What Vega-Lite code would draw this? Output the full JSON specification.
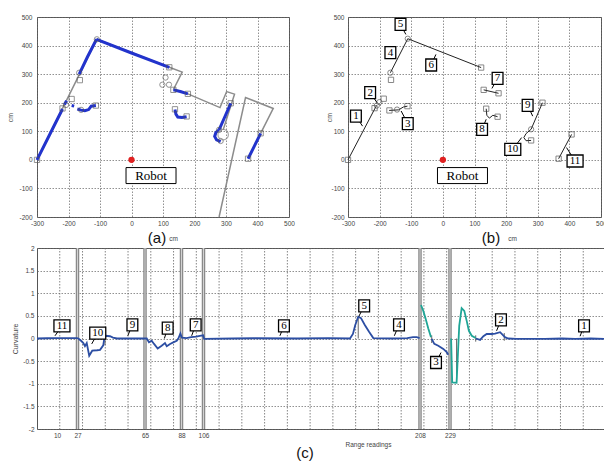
{
  "$schema": "https://vega.github.io/schema/vega-lite/v6.json",
  "padding": {"left": 6, "top": 13, "right": 0, "bottom": 0},
  "background": "white",
  "spacing": -2,
  "datasets": {
    "wallsA": [
      {"s": "w1", "k": 0, "x": -300, "y": 0}, {"s": "w1", "k": 1, "x": -165, "y": 300}, {"s": "w1", "k": 2, "x": -110, "y": 422},
      {"s": "w1", "k": 3, "x": 120, "y": 324}, {"s": "w1", "k": 4, "x": 161, "y": 307}, {"s": "w1", "k": 5, "x": 134, "y": 248},
      {"s": "w1", "k": 6, "x": 179, "y": 231}, {"s": "w1", "k": 7, "x": 281, "y": 183}, {"s": "w1", "k": 8, "x": 302, "y": 239},
      {"s": "w1", "k": 9, "x": 327, "y": 230}, {"s": "w1", "k": 10, "x": 291, "y": 105},
      {"s": "w2", "k": 0, "x": 278, "y": -200}, {"s": "w2", "k": 1, "x": 362, "y": 218}, {"s": "w2", "k": 2, "x": 450, "y": 180}, {"s": "w2", "k": 3, "x": 410, "y": 93}
    ],
    "blueA": [
      {"s": "b1", "k": 0, "x": -300, "y": 0}, {"s": "b1", "k": 1, "x": -260, "y": 88}, {"s": "b1", "k": 2, "x": -219, "y": 178},
      {"s": "b1b", "k": 0, "x": -213, "y": 194}, {"s": "b1b", "k": 1, "x": -206, "y": 207},
      {"s": "b4", "k": 0, "x": -166, "y": 300}, {"s": "b4", "k": 1, "x": -140, "y": 360}, {"s": "b4", "k": 2, "x": -111, "y": 422},
      {"s": "b6", "k": 0, "x": -111, "y": 422}, {"s": "b6", "k": 1, "x": 0, "y": 374}, {"s": "b6", "k": 2, "x": 120, "y": 324},
      {"s": "b3", "k": 0, "x": -172, "y": 178}, {"s": "b3", "k": 1, "x": -160, "y": 174}, {"s": "b3", "k": 2, "x": -148, "y": 172},
      {"s": "b3", "k": 3, "x": -136, "y": 176}, {"s": "b3", "k": 4, "x": -128, "y": 188}, {"s": "b3", "k": 5, "x": -113, "y": 190},
      {"s": "b3a", "k": 0, "x": -190, "y": 190}, {"s": "b3a", "k": 1, "x": -182, "y": 188},
      {"s": "b7", "k": 0, "x": 133, "y": 245}, {"s": "b7", "k": 1, "x": 155, "y": 239}, {"s": "b7", "k": 2, "x": 179, "y": 231},
      {"s": "b8", "k": 0, "x": 138, "y": 176}, {"s": "b8", "k": 1, "x": 141, "y": 160}, {"s": "b8", "k": 2, "x": 147, "y": 150},
      {"s": "b8", "k": 3, "x": 160, "y": 148}, {"s": "b8", "k": 4, "x": 175, "y": 151},
      {"s": "b9", "k": 0, "x": 315, "y": 198}, {"s": "b9", "k": 1, "x": 296, "y": 150}, {"s": "b9", "k": 2, "x": 278, "y": 105},
      {"s": "b10", "k": 0, "x": 278, "y": 105}, {"s": "b10", "k": 1, "x": 268, "y": 96}, {"s": "b10", "k": 2, "x": 264, "y": 82},
      {"s": "b10", "k": 3, "x": 270, "y": 70}, {"s": "b10", "k": 4, "x": 283, "y": 64},
      {"s": "b11", "k": 0, "x": 410, "y": 93}, {"s": "b11", "k": 1, "x": 390, "y": 48}, {"s": "b11", "k": 2, "x": 370, "y": 4}
    ],
    "markA": [
      {"m": "sq", "x": -300, "y": 0}, {"m": "sq", "x": -219, "y": 180}, {"m": "sq", "x": -190, "y": 213}, {"m": "sq", "x": -164, "y": 279},
      {"m": "sq", "x": -113, "y": 190}, {"m": "sq", "x": 120, "y": 324}, {"m": "sq", "x": 179, "y": 231}, {"m": "sq", "x": 138, "y": 177},
      {"m": "sq", "x": 175, "y": 152}, {"m": "sq", "x": 315, "y": 198}, {"m": "sq", "x": 410, "y": 93}, {"m": "sq", "x": 370, "y": 4},
      {"m": "sq", "x": 133, "y": 245},
      {"m": "ci", "x": -208, "y": 192}, {"m": "ci", "x": -166, "y": 305}, {"m": "ci", "x": -110, "y": 422}, {"m": "ci", "x": 278, "y": 105},
      {"m": "ci", "x": 283, "y": 66}, {"m": "ci", "x": 98, "y": 263}, {"m": "ci", "x": 119, "y": 263}, {"m": "ci", "x": 108, "y": 288},
      {"m": "ci", "x": -160, "y": 175}
    ],
    "blackB": [
      {"s": "L1", "k": 0, "x": -300, "y": 0}, {"s": "L1", "k": 1, "x": -210, "y": 190},
      {"s": "L3", "k": 0, "x": -170, "y": 173}, {"s": "L3", "k": 1, "x": -140, "y": 175}, {"s": "L3", "k": 2, "x": -125, "y": 185}, {"s": "L3", "k": 3, "x": -112, "y": 188},
      {"s": "L4", "k": 0, "x": -166, "y": 305}, {"s": "L4", "k": 1, "x": -111, "y": 424},
      {"s": "L6", "k": 0, "x": -111, "y": 424}, {"s": "L6", "k": 1, "x": 121, "y": 323},
      {"s": "L7", "k": 0, "x": 129, "y": 245}, {"s": "L7", "k": 1, "x": 176, "y": 233},
      {"s": "L8", "k": 0, "x": 137, "y": 179}, {"s": "L8", "k": 1, "x": 139, "y": 156}, {"s": "L8", "k": 2, "x": 147, "y": 146}, {"s": "L8", "k": 3, "x": 158, "y": 156}, {"s": "L8", "k": 4, "x": 173, "y": 151},
      {"s": "L9", "k": 0, "x": 315, "y": 200}, {"s": "L9", "k": 1, "x": 279, "y": 107},
      {"s": "L10", "k": 0, "x": 279, "y": 107}, {"s": "L10", "k": 1, "x": 263, "y": 92}, {"s": "L10", "k": 2, "x": 256, "y": 78}, {"s": "L10", "k": 3, "x": 263, "y": 67}, {"s": "L10", "k": 4, "x": 279, "y": 68},
      {"s": "L11", "k": 0, "x": 366, "y": 4}, {"s": "L11", "k": 1, "x": 407, "y": 89}
    ],
    "markB": [
      {"m": "sq", "x": -300, "y": 0}, {"m": "sq", "x": -216, "y": 181}, {"m": "sq", "x": -187, "y": 214}, {"m": "sq", "x": -164, "y": 280},
      {"m": "sq", "x": -169, "y": 173}, {"m": "sq", "x": -112, "y": 188}, {"m": "sq", "x": 121, "y": 323}, {"m": "sq", "x": 129, "y": 245},
      {"m": "sq", "x": 176, "y": 233}, {"m": "sq", "x": 137, "y": 179}, {"m": "sq", "x": 173, "y": 151}, {"m": "sq", "x": 315, "y": 200},
      {"m": "sq", "x": 279, "y": 68}, {"m": "sq", "x": 366, "y": 4}, {"m": "sq", "x": 407, "y": 89},
      {"m": "ci", "x": -209, "y": 190}, {"m": "ci", "x": -201, "y": 202}, {"m": "ci", "x": -166, "y": 305}, {"m": "ci", "x": -111, "y": 424},
      {"m": "ci", "x": -145, "y": 176}, {"m": "ci", "x": 279, "y": 107}
    ],
    "labelsB": [
      {"n": "1", "x": -275, "y": 153, "tx": -254, "ty": 118},
      {"n": "2", "x": -230, "y": 235, "tx": -208, "ty": 200},
      {"n": "3", "x": -111, "y": 127, "tx": -132, "ty": 171},
      {"n": "4", "x": -166, "y": 375, "tx": -148, "ty": 358},
      {"n": "5", "x": -134, "y": 474, "tx": -117, "ty": 439},
      {"n": "6", "x": -37, "y": 332, "tx": -22, "ty": 369},
      {"n": "7", "x": 173, "y": 285, "tx": 155, "ty": 250},
      {"n": "8", "x": 124, "y": 107, "tx": 137, "ty": 142},
      {"n": "9", "x": 268, "y": 191, "tx": 284, "ty": 153},
      {"n": "10", "x": 221, "y": 37, "tx": 249, "ty": 78},
      {"n": "11", "x": 418, "y": -4, "tx": 391, "ty": 43}
    ],
    "robot": [{"x": 0, "y": 0}],
    "robotLabel": [{"x": 62, "y": -55, "t": "Robot"}],
    "gridC": [
      {"g": 1}, {"g": 2}, {"g": 3}, {"g": 4}, {"g": 5}, {"g": 6}, {"g": 7}, {"g": 8}, {"g": 9}, {"g": 10}, {"g": 11}, {"g": 12},
      {"g": 13}, {"g": 14}, {"g": 15}, {"g": 16}, {"g": 17}, {"g": 18}, {"g": 19}, {"g": 20}, {"g": 21}, {"g": 22}, {"g": 23}, {"g": 24}
    ],
    "boundsC": [{"r": 27}, {"r": 65}, {"r": 88}, {"r": 106}, {"r": 208}, {"r": 229}],
    "ticksC": [
      {"r": 42.5, "c": 0.05, "c2": -0.15}, {"r": 178.9, "c": 0, "c2": 0.48}, {"r": 216.2, "c": 0.07, "c2": -0.1},
      {"r": 232, "c": 0, "c2": -0.9}, {"r": 240.7, "c": -0.07, "c2": 0.07}, {"r": 253.7, "c": -0.05, "c2": 0.12}
    ],
    "curvesC": [
      {"s": "m", "kind": "blue", "r": 0, "c": 0.0}, {"s": "m", "kind": "blue", "r": 5, "c": 0.005}, {"s": "m", "kind": "blue", "r": 10, "c": 0.01},
      {"s": "m", "kind": "blue", "r": 18, "c": 0.01}, {"s": "m", "kind": "blue", "r": 26.5, "c": 0.01}, {"s": "m", "kind": "blue", "r": 27.5, "c": 0.0},
      {"s": "m", "kind": "blue", "r": 29, "c": -0.05}, {"s": "m", "kind": "blue", "r": 30.3, "c": -0.1}, {"s": "m", "kind": "blue", "r": 31.2, "c": -0.17},
      {"s": "m", "kind": "blue", "r": 32.2, "c": -0.1}, {"s": "m", "kind": "blue", "r": 33.6, "c": -0.38}, {"s": "m", "kind": "blue", "r": 35.3, "c": -0.27},
      {"s": "m", "kind": "blue", "r": 38, "c": -0.26}, {"s": "m", "kind": "blue", "r": 39.7, "c": -0.25}, {"s": "m", "kind": "blue", "r": 41.5, "c": -0.15},
      {"s": "m", "kind": "blue", "r": 42.2, "c": 0.03}, {"s": "m", "kind": "blue", "r": 43, "c": 0.06}, {"s": "m", "kind": "blue", "r": 45.3, "c": 0.05},
      {"s": "m", "kind": "blue", "r": 47, "c": 0.02}, {"s": "m", "kind": "blue", "r": 49.2, "c": 0.0}, {"s": "m", "kind": "blue", "r": 55, "c": 0.0},
      {"s": "m", "kind": "blue", "r": 64.5, "c": 0.0}, {"s": "m", "kind": "blue", "r": 66.1, "c": 0.0}, {"s": "m", "kind": "blue", "r": 67.5, "c": -0.085},
      {"s": "m", "kind": "blue", "r": 69.2, "c": -0.05}, {"s": "m", "kind": "blue", "r": 70.7, "c": -0.12}, {"s": "m", "kind": "blue", "r": 73, "c": -0.22},
      {"s": "m", "kind": "blue", "r": 75.5, "c": -0.16}, {"s": "m", "kind": "blue", "r": 77.6, "c": -0.1}, {"s": "m", "kind": "blue", "r": 78.7, "c": -0.17},
      {"s": "m", "kind": "blue", "r": 80.8, "c": -0.12}, {"s": "m", "kind": "blue", "r": 82.8, "c": -0.085}, {"s": "m", "kind": "blue", "r": 85, "c": -0.05},
      {"s": "m", "kind": "blue", "r": 86, "c": 0.0}, {"s": "m", "kind": "blue", "r": 87.3, "c": 0.11}, {"s": "m", "kind": "blue", "r": 88.3, "c": 0.02},
      {"s": "m", "kind": "blue", "r": 92, "c": 0.01}, {"s": "m", "kind": "blue", "r": 96, "c": 0.03}, {"s": "m", "kind": "blue", "r": 100, "c": 0.04},
      {"s": "m", "kind": "blue", "r": 103, "c": 0.06}, {"s": "m", "kind": "blue", "r": 105.7, "c": 0.07}, {"s": "m", "kind": "blue", "r": 106.3, "c": -0.01},
      {"s": "m", "kind": "blue", "r": 120, "c": 0.0}, {"s": "m", "kind": "blue", "r": 130, "c": 0.005}, {"s": "m", "kind": "blue", "r": 150, "c": 0.0},
      {"s": "m", "kind": "blue", "r": 165, "c": 0.01}, {"s": "m", "kind": "blue", "r": 175, "c": 0.0}, {"s": "m", "kind": "blue", "r": 176.4, "c": 0.1},
      {"s": "m", "kind": "blue", "r": 177.5, "c": 0.3}, {"s": "m", "kind": "blue", "r": 178.9, "c": 0.48}, {"s": "m", "kind": "blue", "r": 180.2, "c": 0.45},
      {"s": "m", "kind": "blue", "r": 182, "c": 0.3}, {"s": "m", "kind": "blue", "r": 184, "c": 0.15}, {"s": "m", "kind": "blue", "r": 186, "c": 0.01},
      {"s": "m", "kind": "blue", "r": 195, "c": 0.0}, {"s": "m", "kind": "blue", "r": 202, "c": 0.01}, {"s": "m", "kind": "blue", "r": 204.7, "c": 0.03},
      {"s": "m", "kind": "blue", "r": 206.5, "c": 0.03}, {"s": "m", "kind": "blue", "r": 207.8, "c": 0.01},
      {"s": "tA", "kind": "teal", "r": 208.7, "c": 0.74}, {"s": "tA", "kind": "teal", "r": 210.3, "c": 0.61}, {"s": "tA", "kind": "teal", "r": 212, "c": 0.43},
      {"s": "tA", "kind": "teal", "r": 213.8, "c": 0.22}, {"s": "tA", "kind": "teal", "r": 215.7, "c": 0.03},
      {"s": "b3", "kind": "blue", "r": 216.2, "c": -0.01}, {"s": "b3", "kind": "blue", "r": 218, "c": -0.12}, {"s": "b3", "kind": "blue", "r": 220.8, "c": -0.16},
      {"s": "b3", "kind": "blue", "r": 224.3, "c": -0.23}, {"s": "b3", "kind": "blue", "r": 226.7, "c": -0.3}, {"s": "b3", "kind": "blue", "r": 227.8, "c": -0.36},
      {"s": "tB", "kind": "teal", "r": 229.5, "c": 0.0}, {"s": "tB", "kind": "teal", "r": 230, "c": -0.97}, {"s": "tB", "kind": "teal", "r": 232, "c": -0.98},
      {"s": "tB", "kind": "teal", "r": 233.2, "c": 0.28}, {"s": "tB", "kind": "teal", "r": 234.3, "c": 0.67}, {"s": "tB", "kind": "teal", "r": 235.5, "c": 0.61},
      {"s": "tB", "kind": "teal", "r": 236.6, "c": 0.39}, {"s": "tB", "kind": "teal", "r": 237.6, "c": 0.17}, {"s": "tB", "kind": "teal", "r": 238.9, "c": 0.06},
      {"s": "tB", "kind": "teal", "r": 240.7, "c": 0.01},
      {"s": "bC", "kind": "blue", "r": 240.8, "c": 0.0}, {"s": "bC", "kind": "blue", "r": 242.7, "c": -0.03}, {"s": "bC", "kind": "blue", "r": 244.2, "c": 0.05},
      {"s": "bC", "kind": "blue", "r": 245.7, "c": 0.1}, {"s": "bC", "kind": "blue", "r": 248, "c": 0.1}, {"s": "bC", "kind": "blue", "r": 249.5, "c": 0.11},
      {"s": "bC", "kind": "blue", "r": 251.8, "c": 0.14}, {"s": "bC", "kind": "blue", "r": 253, "c": 0.08}, {"s": "bC", "kind": "blue", "r": 254, "c": 0.03},
      {"s": "bC", "kind": "blue", "r": 255.5, "c": 0.0}, {"s": "bC", "kind": "blue", "r": 259.3, "c": -0.01}, {"s": "bC", "kind": "blue", "r": 272.2, "c": -0.01},
      {"s": "bC", "kind": "blue", "r": 280, "c": 0.0}, {"s": "bC", "kind": "blue", "r": 286, "c": -0.01}, {"s": "bC", "kind": "blue", "r": 293, "c": 0.0},
      {"s": "bC", "kind": "blue", "r": 300, "c": -0.01}
    ],
    "labelsC": [
      {"n": "11", "r": 14.1, "c": 0.28, "r2": 9, "c2": 0.06},
      {"n": "10", "r": 38.4, "c": 0.12, "r2": 35, "c2": -0.12},
      {"n": "9", "r": 57.9, "c": 0.3, "r2": 55.3, "c2": 0.06},
      {"n": "8", "r": 79.3, "c": 0.23, "r2": 77.2, "c2": 0.0},
      {"n": "7", "r": 99.6, "c": 0.3, "r2": 96.3, "c2": 0.06},
      {"n": "6", "r": 143.9, "c": 0.28, "r2": 142, "c2": 0.06},
      {"n": "5", "r": 181.7, "c": 0.72, "r2": 179.2, "c2": 0.49},
      {"n": "4", "r": 198.1, "c": 0.3, "r2": 195.9, "c2": 0.06},
      {"n": "3", "r": 219.2, "c": -0.53, "r2": 222.7, "c2": -0.31},
      {"n": "2", "r": 252.2, "c": 0.41, "r2": 250.2, "c2": 0.17},
      {"n": "1", "r": 290, "c": 0.28, "r2": 288.2, "c2": 0.05}
    ]
  },
  "vconcat": [
    {
      "spacing": 30,
      "hconcat": [
        {
          "width": 252, "height": 200,
          "title": {"text": "(a)", "orient": "bottom", "baseline": "middle", "offset": -4, "dx": -6},
          "encoding": {
            "x": {"field": "x", "type": "quantitative", "scale": {"domain": [-300, 500], "nice": false, "zero": false},
              "axis": {"values": [-300, -200, -100, 0, 100, 200, 300, 400, 500], "labelExpr": "toString(datum.value)", "labelFlush": false, "labelPadding": 3,
                "title": "cm", "titleX": 136, "titleY": 21, "titleBaseline": "middle", "titleFontSize": 6.5}},
            "y": {"field": "y", "type": "quantitative", "scale": {"domain": [-200, 500], "nice": false, "zero": false},
              "axis": {"values": [-200, -100, 0, 100, 200, 300, 400, 500], "labelExpr": "toString(datum.value)", "labelPadding": 5,
                "minExtent": 20, "maxExtent": 20, "title": "cm", "titlePadding": 3.5}}
          },
          "layer": [
            {"data": {"name": "wallsA"}, "mark": {"type": "line", "color": "#8c8c8c", "strokeWidth": 1.5},
              "encoding": {"detail": {"field": "s"}, "order": {"field": "k"}}},
            {"data": {"name": "blueA"}, "mark": {"type": "line", "color": "#2233cc", "strokeWidth": 3},
              "encoding": {"detail": {"field": "s"}, "order": {"field": "k"}}},
            {"data": {"name": "markA"}, "mark": {"type": "point", "filled": false, "color": "#555555", "strokeWidth": 0.9, "size": 28},
              "encoding": {"shape": {"field": "m", "type": "nominal", "scale": {"domain": ["sq", "ci"], "range": ["square", "circle"]}, "legend": null}}},
            {"data": {"values": [{"x": 291, "y": 88}]}, "mark": {"type": "point", "shape": "circle", "filled": false, "color": "#888888", "strokeWidth": 1.2, "size": 110}},
            {"data": {"name": "robot"}, "mark": {"type": "point", "shape": "circle", "filled": true, "color": "#e02020", "opacity": 1, "size": 40}},
            {"data": {"name": "robotLabel"}, "mark": {"type": "point", "shape": "M-1,-0.32H1V0.32H-1Z", "size": 2500, "fill": "white", "fillOpacity": 1, "stroke": "black", "strokeWidth": 1, "opacity": 1}},
            {"data": {"name": "robotLabel"}, "mark": {"type": "text", "font": "Liberation Serif", "fontSize": 13, "color": "black", "align": "center", "baseline": "middle"},
              "encoding": {"text": {"field": "t"}}}
          ]
        },
        {
          "width": 253, "height": 200,
          "title": {"text": "(b)", "orient": "bottom", "baseline": "middle", "offset": -4, "dx": 16.5},
          "encoding": {
            "x": {"field": "x", "type": "quantitative", "scale": {"domain": [-300, 500], "nice": false, "zero": false},
              "axis": {"values": [-300, -200, -100, 0, 100, 200, 300, 400, 500], "labelExpr": "toString(datum.value)", "labelFlush": false, "labelPadding": 3,
                "title": "cm", "titleX": 164, "titleY": 21, "titleBaseline": "middle", "titleFontSize": 6.5}},
            "y": {"field": "y", "type": "quantitative", "scale": {"domain": [-200, 500], "nice": false, "zero": false},
              "axis": {"values": [-200, -100, 0, 100, 200, 300, 400, 500], "labelExpr": "toString(datum.value)", "labelPadding": 4,
                "minExtent": 14, "maxExtent": 14, "title": "cm", "titlePadding": 1.5}}
          },
          "layer": [
            {"data": {"name": "blackB"}, "mark": {"type": "line", "color": "#222222", "strokeWidth": 1},
              "encoding": {"detail": {"field": "s"}, "order": {"field": "k"}}},
            {"data": {"name": "markB"}, "mark": {"type": "point", "filled": false, "color": "#444444", "strokeWidth": 0.9, "size": 28},
              "encoding": {"shape": {"field": "m", "type": "nominal", "scale": {"domain": ["sq", "ci"], "range": ["square", "circle"]}, "legend": null}}},
            {"data": {"name": "labelsB"}, "mark": {"type": "rule", "color": "black", "strokeWidth": 1},
              "encoding": {"x2": {"field": "tx"}, "y2": {"field": "ty"}}},
            {"data": {"name": "labelsB"}, "transform": [{"filter": "length(datum.n) == 1"}],
              "mark": {"type": "point", "shape": "M-0.9,-1H0.9V1H-0.9Z", "size": 144, "fill": "white", "fillOpacity": 1, "stroke": "black", "strokeWidth": 1.3, "opacity": 1}},
            {"data": {"name": "labelsB"}, "transform": [{"filter": "length(datum.n) == 2"}],
              "mark": {"type": "point", "shape": "M-1,-0.75H1V0.75H-1Z", "size": 256, "fill": "white", "fillOpacity": 1, "stroke": "black", "strokeWidth": 1.3, "opacity": 1}},
            {"data": {"name": "labelsB"}, "mark": {"type": "text", "font": "Liberation Serif", "fontSize": 11, "color": "black", "align": "center", "baseline": "middle"},
              "encoding": {"text": {"field": "n"}}},
            {"data": {"name": "robot"}, "mark": {"type": "point", "shape": "circle", "filled": true, "color": "#e02020", "opacity": 1, "size": 40}},
            {"data": {"name": "robotLabel"}, "mark": {"type": "point", "shape": "M-1,-0.32H1V0.32H-1Z", "size": 2500, "fill": "white", "fillOpacity": 1, "stroke": "black", "strokeWidth": 1, "opacity": 1}},
            {"data": {"name": "robotLabel"}, "mark": {"type": "text", "font": "Liberation Serif", "fontSize": 13, "color": "black", "align": "center", "baseline": "middle"},
              "encoding": {"text": {"field": "t"}}}
          ]
        }
      ]
    },
    {
      "width": 569, "height": 181,
      "title": {"text": "(c)", "orient": "bottom", "baseline": "middle", "offset": 5, "dx": -16.5},
      "resolve": {"scale": {"x": "independent"}},
      "layer": [
        {"data": {"name": "gridC"}, "mark": {"type": "rule", "strokeDash": [1.5, 1.5], "color": "#666666", "strokeWidth": 0.8},
          "encoding": {"x": {"field": "g", "type": "quantitative", "scale": {"domain": [0, 25], "nice": false, "zero": false}, "axis": null}}},
        {"data": {"name": "boundsC"}, "layer": [
          {"mark": {"type": "rule", "color": "#8a8a8a", "strokeWidth": 3.5}, "encoding": {}},
          {"mark": {"type": "rule", "color": "#e4e4e4", "strokeWidth": 0.8}, "encoding": {}}
        ],
          "encoding": {"x": {"field": "r", "type": "quantitative",
            "scale": {"domain": [0, 10, 27, 65, 88, 106, 208, 229, 300], "range": [0, 20, 40.5, 108, 144.5, 166.5, 383, 413, 569], "nice": false, "zero": false}, "axis": null}}},
        {
          "encoding": {
            "x": {"field": "r", "type": "quantitative",
              "scale": {"domain": [0, 10, 27, 65, 88, 106, 208, 229, 300], "range": [0, 20, 40.5, 108, 144.5, 166.5, 383, 413, 569], "nice": false, "zero": false},
              "axis": {"orient": "bottom", "values": [10, 27, 65, 88, 106, 208, 229], "labelExpr": "toString(datum.value)", "labelFlush": false, "labelOverlap": false,
                "labelPadding": 3, "labelDx": 1.5, "grid": false, "title": "Range readings", "titleX": 331, "titleY": 15, "titleBaseline": "middle", "titleFontSize": 6.5}},
            "y": {"field": "c", "type": "quantitative", "scale": {"domain": [-2, 2], "nice": false, "zero": false},
              "axis": {"values": [-2, -1.5, -1, -0.5, 0, 0.5, 1, 1.5, 2], "labelExpr": "toString(datum.value)", "labelPadding": 3,
                "minExtent": 15, "maxExtent": 15, "title": "Curvature", "titlePadding": 3.5}}
          },
          "layer": [
            {"data": {"name": "ticksC"}, "mark": {"type": "rule", "color": "#555555", "strokeWidth": 0.9},
              "encoding": {"y2": {"field": "c2"}}},
            {"data": {"name": "curvesC"}, "mark": {"type": "line", "strokeWidth": 1.8},
              "encoding": {"detail": {"field": "s"},
                "color": {"field": "kind", "type": "nominal", "scale": {"domain": ["blue", "teal"], "range": ["#2c4ea3", "#1fa596"]}, "legend": null}}},
            {"data": {"name": "labelsC"}, "mark": {"type": "rule", "color": "black", "strokeWidth": 1},
              "encoding": {"x2": {"field": "r2"}, "y2": {"field": "c2"}}},
            {"data": {"name": "labelsC"}, "transform": [{"filter": "length(datum.n) == 1"}],
              "mark": {"type": "point", "shape": "M-0.9,-1H0.9V1H-0.9Z", "size": 144, "fill": "white", "fillOpacity": 1, "stroke": "black", "strokeWidth": 1.3, "opacity": 1}},
            {"data": {"name": "labelsC"}, "transform": [{"filter": "length(datum.n) == 2"}],
              "mark": {"type": "point", "shape": "M-1,-0.75H1V0.75H-1Z", "size": 256, "fill": "white", "fillOpacity": 1, "stroke": "black", "strokeWidth": 1.3, "opacity": 1}},
            {"data": {"name": "labelsC"}, "mark": {"type": "text", "font": "Liberation Serif", "fontSize": 11, "color": "black", "align": "center", "baseline": "middle"},
              "encoding": {"text": {"field": "n"}}}
          ]
        }
      ]
    }
  ],
  "config": {
    "view": {"stroke": "#555555", "strokeWidth": 1},
    "axis": {"labelFont": "Liberation Sans", "labelFontSize": 6.5, "labelColor": "#444444", "titleFont": "Liberation Sans", "titleFontSize": 7,
      "titleFontWeight": "normal", "titleColor": "#444444", "ticks": false, "tickSize": 0, "domain": false,
      "gridColor": "#666666", "gridDash": [1.5, 1.5], "gridWidth": 0.8, "gridOpacity": 0.9},
    "title": {"font": "Liberation Sans", "fontSize": 15, "fontWeight": "normal", "color": "#111111"}
  }
}
